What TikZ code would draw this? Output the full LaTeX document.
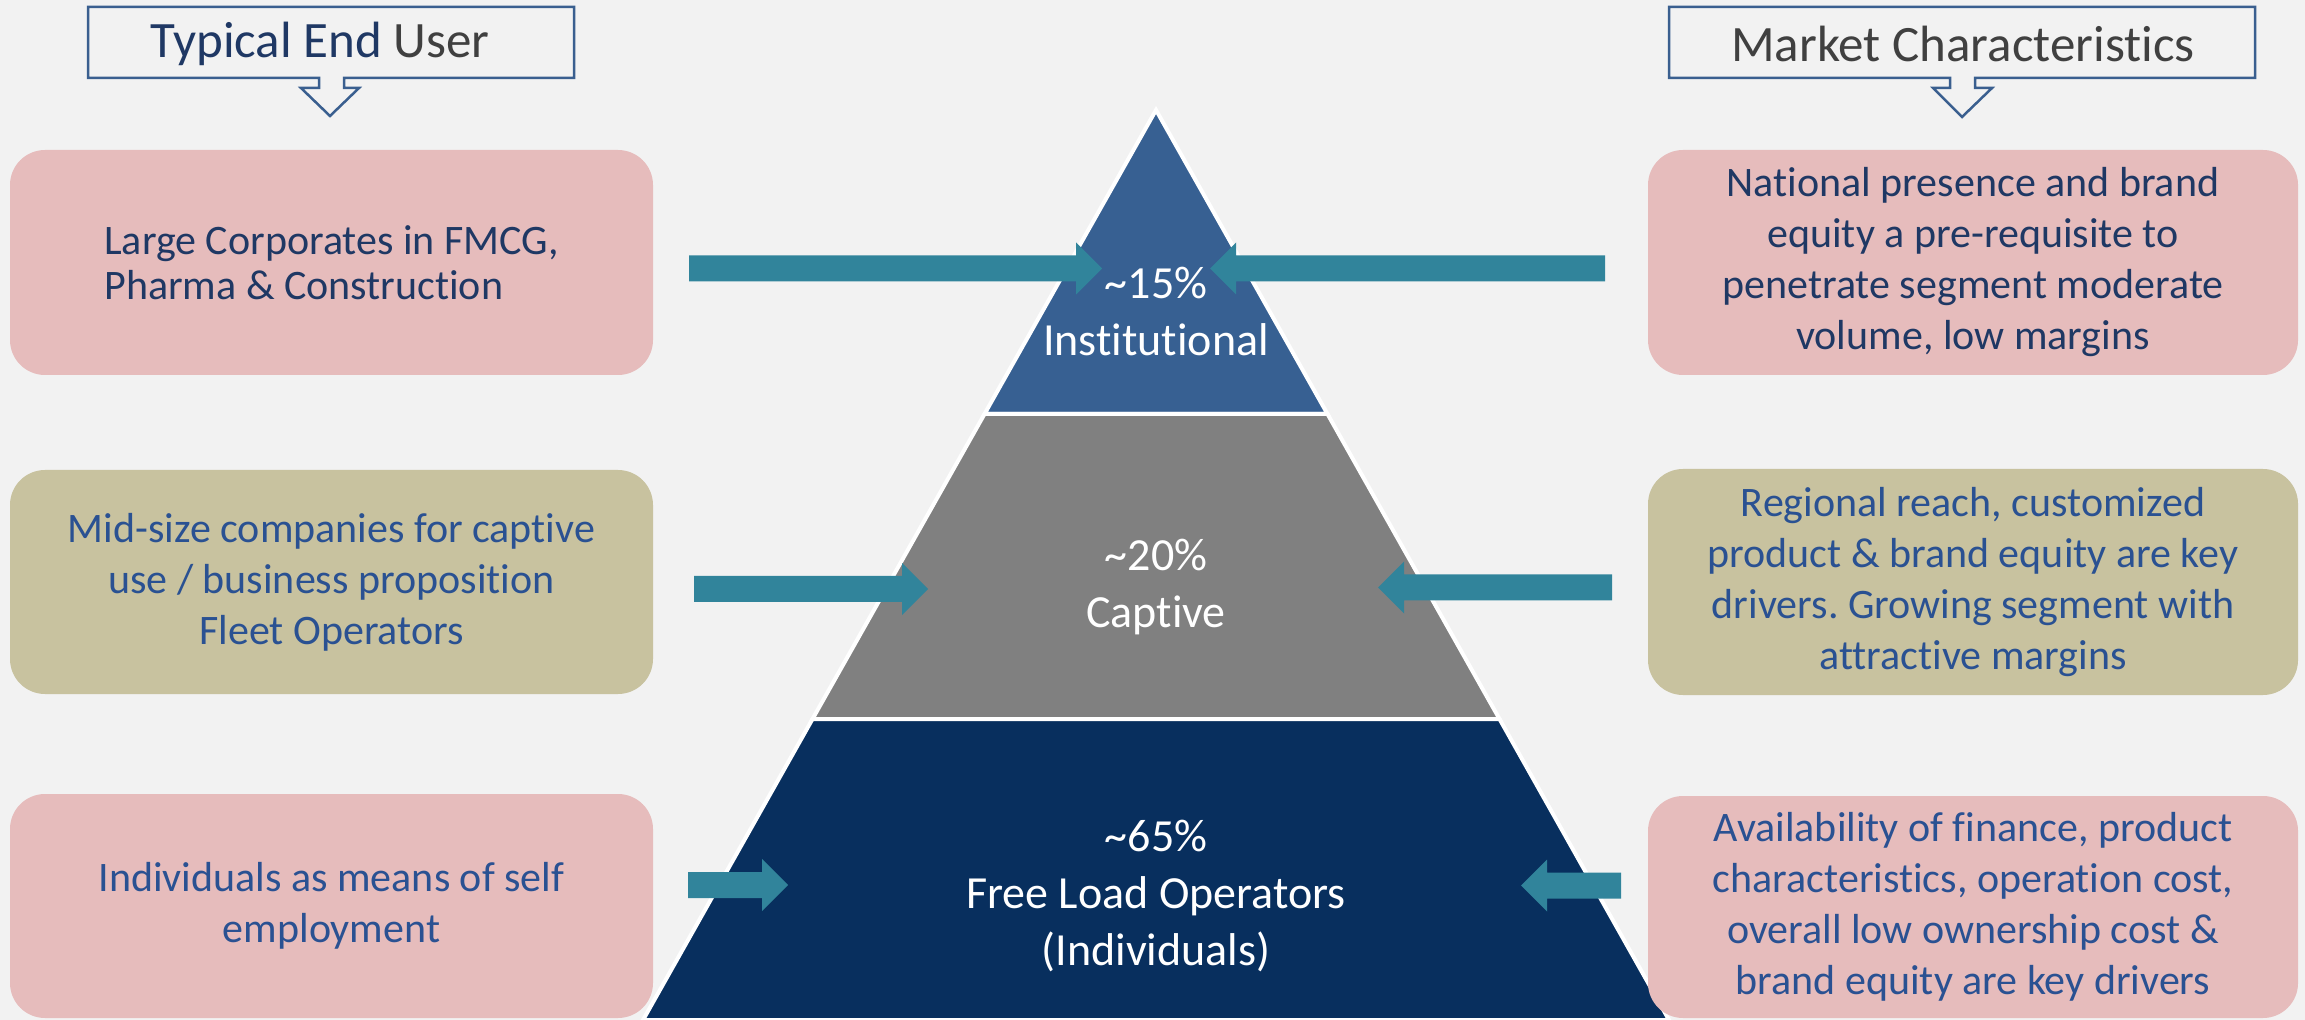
\documentclass[tikz,border=0pt]{standalone}
\usepackage{fontspec}
\setmainfont{Carlito}[Ligatures=NoCommon]
\frenchspacing
\usetikzlibrary{calc}

\definecolor{bg}{HTML}{F2F2F2}
\definecolor{tiertop}{HTML}{376092}
\definecolor{tiermid}{HTML}{808080}
\definecolor{tierbot}{HTML}{082F5E}
\definecolor{arrowteal}{HTML}{31849B}
\definecolor{boxpink}{HTML}{E6BCBC}
\definecolor{boxolive}{HTML}{C8C29F}
\definecolor{navytext}{HTML}{1F3864}
\definecolor{bluetext}{HTML}{2A5192}
\definecolor{graytext}{HTML}{404040}
\definecolor{calloutline}{HTML}{3A5F8F}

\tikzset{
  infobox/.style={rounded corners=17.5pt, inner sep=0pt, align=center,
    font=\fontsize{21pt}{25.5pt}\selectfont, text=bluetext},
  pinkbox/.style={infobox, fill=boxpink},
  olivebox/.style={infobox, fill=boxolive},
  leftbox/.style={minimum width=321.5pt},
  rightbox/.style={minimum width=325pt},
  tier/.style={draw=white, line width=2pt, line join=miter},
  tierlabel/.style={text=white, align=center, font=\fontsize{23pt}{28.5pt}\selectfont},
  callout/.style={draw=calloutline, line width=1.25pt, fill=bg},
  headtext/.style={font=\fontsize{25.5pt}{30pt}\selectfont, text=graytext, anchor=base},
  blockarrow/.style={fill=arrowteal},
}

% horizontal block arrow: tail x, tip x, centre y
\newcommand\tealarrow[3]{%
  \pgfmathsetmacro\headbase{#2-26*sign(#2-#1)}%
  \fill[blockarrow] (#1,#3-13) -- (\headbase,#3-13) -- (\headbase,#3-26)
    -- (#2,#3) -- (\headbase,#3+26) -- (\headbase,#3+13) -- (#1,#3+13) -- cycle;}

\begin{document}
\begin{tikzpicture}[x=0.5pt, y=-0.5pt]
  \fill[bg] (0,0) rectangle (2305,1020);
  \useasboundingbox (0,0) rectangle (2305,1020);

  % pyramid tiers
  \coordinate (apex) at (1156,110);
  \coordinate (t1l) at (984.5,414);  \coordinate (t1r) at (1327.5,414);
  \coordinate (t2l) at (812.5,719);  \coordinate (t2r) at (1499.5,719);
  \coordinate (t3l) at (643,1020);   \coordinate (t3r) at (1669,1020);
  \fill[tiertop, tier] (apex) -- (t1r) -- (t1l) -- cycle;
  \fill[tiermid, tier] (t1l) -- (t1r) -- (t2r) -- (t2l) -- cycle;
  \fill[tierbot, tier] (t2l) -- (t2r) -- (t3r) -- (t3l) -- cycle;

  \node[tierlabel] (inst) at (1156,311) {\textasciitilde15\%\\Institutional};
  \node[tierlabel] (capt) at (1156,587) {\textasciitilde20\%\\Captive};
  \node[tierlabel] (flo)  at (1156,896) {\textasciitilde65\%\\Free Load Operators\\(Individuals)};

  % column headings with down-pointing callouts
  \draw[callout] (88,7) -- (574,7) -- (574,78) -- (344,78) -- (344,88) -- (359,88)
    -- (330,116) -- (301,88) -- (319,88) -- (319,78) -- (88,78) -- cycle;
  \node[headtext] (endhead) at (320,58) {\textcolor{navytext}{Typical End} User};

  \draw[callout] (1669,7) -- (2255,7) -- (2255,78) -- (1975,78) -- (1975,88) -- (1992,88)
    -- (1962,117) -- (1933,88) -- (1950,88) -- (1950,78) -- (1669,78) -- cycle;
  \node[headtext] (markethead) at (1963,62) {Market Characteristics};

  % end user boxes
  \node[pinkbox, leftbox, minimum height=112.5pt, text=navytext, align=left,
        font=\fontsize{21pt}{22.5pt}\selectfont] (lu1) at (331.5,262.5)
    {Large Corporates in FMCG,\\Pharma \& Construction};
  \node[olivebox, leftbox, minimum height=112pt] (lu2) at (331.5,582)
    {Mid-size companies for captive\\use / business proposition\\Fleet Operators};
  \node[pinkbox, leftbox, minimum height=112pt] (lu3) at (331.5,906)
    {Individuals as means of self\\employment};

  % market characteristic boxes
  \node[pinkbox, rightbox, minimum height=112.5pt, text=navytext] (mc1) at (1973,262.5)
    {National presence and brand\\equity a pre-requisite to\\penetrate segment moderate\\volume, low margins};
  \node[olivebox, rightbox, minimum height=113pt] (mc2) at (1973,582)
    {Regional reach, customized\\product \& brand equity are key\\drivers. Growing segment with\\attractive margins};
  \node[pinkbox, rightbox, minimum height=111pt] (mc3) at (1973,907)
    {Availability of finance, product\\characteristics, operation cost,\\overall low ownership cost \&\\brand equity are key drivers};

  % arrows pointing into the tiers
  \tealarrow{689}{1102}{268.5}
  \tealarrow{1605}{1210}{268.5}
  \tealarrow{694}{928}{589}
  \tealarrow{1612}{1378}{587.5}
  \tealarrow{688}{788}{885}
  \tealarrow{1621}{1521}{885.5}
\end{tikzpicture}
\end{document}
